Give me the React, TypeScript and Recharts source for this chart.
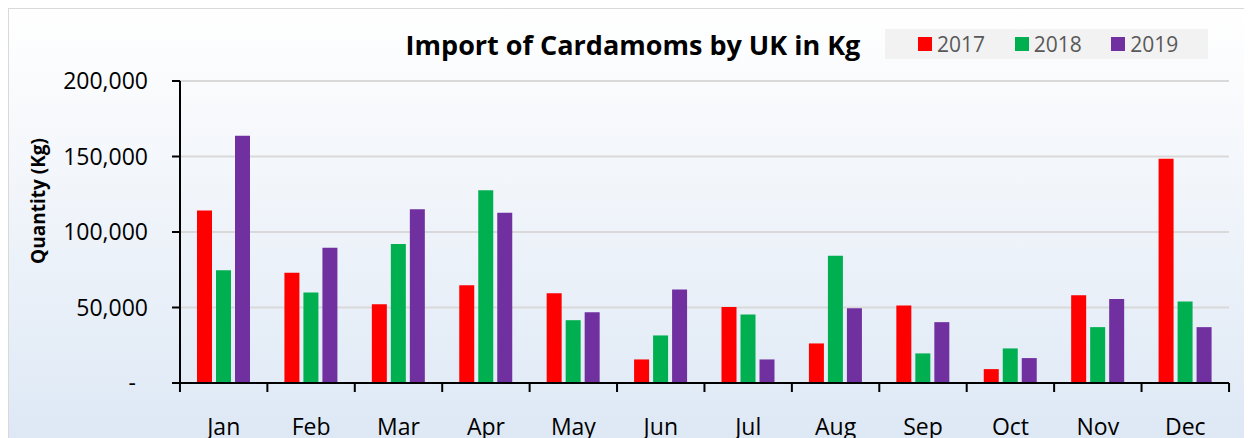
import { BarChart, Bar, XAxis, YAxis, CartesianGrid, Legend } from "recharts";

const months = ["Jan", "Feb", "Mar", "Apr", "May", "Jun", "Jul", "Aug", "Sep", "Oct", "Nov", "Dec"];
const qty2017 = [114200, 73000, 52100, 64700, 59400, 15600, 50400, 26200, 51300, 9200, 58100, 148500];
const qty2018 = [74600, 60000, 92000, 127600, 41600, 31500, 45300, 84300, 19600, 22900, 37000, 53900];
const qty2019 = [163700, 89600, 115000, 112700, 46900, 62000, 15600, 49500, 40300, 16500, 55600, 37000];
const yTicks = [0, 50000, 100000, 150000, 200000];

const series = [
  { key: "y2017", name: "2017", color: "#ff0000" },
  { key: "y2018", name: "2018", color: "#00b050" },
  { key: "y2019", name: "2019", color: "#7030a0" },
];

const data = months.map((m, i) => ({
  month: m,
  y2017: qty2017[i],
  y2018: qty2018[i],
  y2019: qty2019[i],
}));

const W = 1260;
const H = 440;
const LEFT = 171;
const RIGHT = 39;
const TOP = 73;
const XH = 64;
const band = (W - LEFT - RIGHT) / months.length;
const FONT = "'Open Sans', sans-serif";

const fmt = (v: number) => (v === 0 ? "-" : v.toLocaleString("en-US"));

const YTick = (props: any) => {
  const { x, y, payload } = props;
  const dx = payload.value === 0 ? -12 : 0;
  return (
    <text x={x + dx} y={y} dy={8} textAnchor="end" fontFamily={FONT} fontSize={23} fill="#000">
      {fmt(payload.value)}
    </text>
  );
};

const XTick = (props: any) => {
  const { x, y, payload, index } = props;
  return (
    <g>
      <line x1={x - band / 2} x2={x - band / 2} y1={y} y2={y + 9} stroke="#000" strokeWidth={2} />
      {index === months.length - 1 && (
        <line x1={x + band / 2} x2={x + band / 2} y1={y} y2={y + 9} stroke="#000" strokeWidth={2} />
      )}
      <text x={x} y={y} dy={52} textAnchor="middle" fontFamily={FONT} fontSize={23} fill="#000">
        {payload.value}
      </text>
    </g>
  );
};

const LegendBox = () => (
  <div
    style={{
      background: "#f2f2f2",
      width: 323,
      height: 30,
      display: "flex",
      alignItems: "center",
      paddingLeft: 33,
      boxSizing: "border-box",
      fontFamily: FONT,
      fontSize: 21,
      color: "#595959",
    }}
  >
    {series.map((s) => (
      <div key={s.key} style={{ display: "flex", alignItems: "center", width: 99 }}>
        <span style={{ width: 14, height: 14, background: s.color, marginRight: 5 }} />
        <span style={{ lineHeight: "30px" }}>{s.name}</span>
      </div>
    ))}
  </div>
);

export default function App() {
  return (
    <div style={{ width: 1244, height: 430, overflow: "hidden" }}>
      <div
        style={{
          width: W,
          height: H,
          border: "1px solid #d9d9d9",
          boxSizing: "border-box",
          background: "linear-gradient(to bottom, #ffffff 0%, #f7f9fc 25%, #dde8f5 100%)",
        }}
      >
        <BarChart
          width={W - 2}
          height={H - 2}
          data={data}
          margin={{ top: TOP - 1, right: RIGHT - 1, left: 0, bottom: 0 }}
          barSize={15}
          barGap={4}
        >
          <text x={624} y={46} textAnchor="middle" fontFamily={FONT} fontWeight={700} fontSize={27} fill="#000">
            Import of Cardamoms by UK in Kg
          </text>
          <text
            transform={`translate(36, 192) rotate(-90)`}
            textAnchor="middle"
            fontFamily={FONT}
            fontWeight={700}
            fontSize={19}
            fill="#000"
          >
            Quantity (Kg)
          </text>
          <CartesianGrid vertical={false} stroke="#d9d9d9" strokeWidth={2} />
          <XAxis
            dataKey="month"
            height={XH}
            tickLine={false}
            tickSize={0}
            tickMargin={0}
            stroke="#000"
            strokeWidth={2}
            tick={<XTick />}
            interval={0}
          />
          <YAxis
            width={LEFT}
            domain={[0, 200000]}
            ticks={yTicks}
            tickSize={8}
            tickMargin={24}
            stroke="#000"
            strokeWidth={2}
            tick={<YTick />}
          />
          <Legend
            layout="horizontal"
            verticalAlign="middle"
            align="center"
            content={<LegendBox />}
            wrapperStyle={{ top: 20, left: 876, width: 323 }}
          />
          {series.map((s) => (
            <Bar key={s.key} dataKey={s.key} name={s.name} fill={s.color} isAnimationActive={false} />
          ))}
        </BarChart>
      </div>
    </div>
  );
}
